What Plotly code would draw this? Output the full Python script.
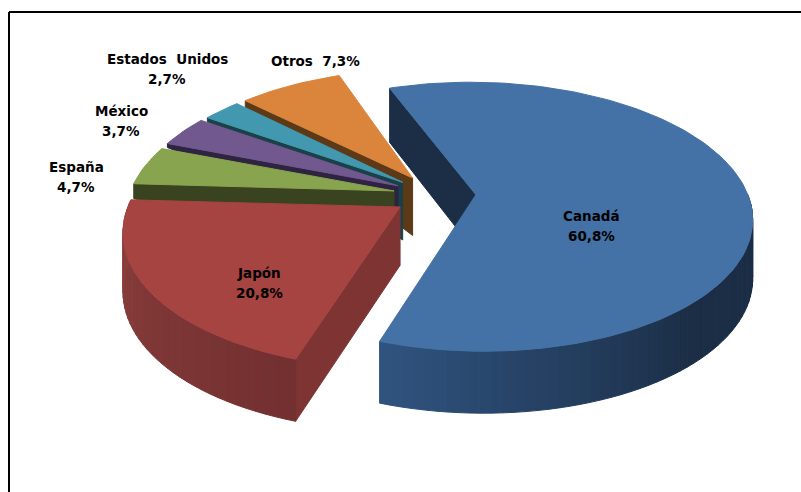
import math
import plotly.graph_objects as go

categories = ["Canadá", "Japón", "España", "México", "Estados Unidos", "Otros"]
values = [60.8, 20.8, 4.7, 3.7, 2.7, 7.3]

top_colors = ["#4472A6", "#A64442", "#89A44E", "#71588F", "#4198AF", "#DA843C"]
edge_colors = ["#1B2E46", "#7E3433", "#3A431F", "#2E2340", "#1A4048", "#5C3A17"]
wall_left = ["#305480", "#8C403E", None, None, None, None]
wall_right = ["#1B2E46", "#733030", None, None, None, None]
outer_end_depth = [None, None, 15, 4, 4, 7]
slice_pull = [0.145, 0.16, 0.16, 0.16, 0.16, 0.16]
slice_turn = [0.9, 0.3, 0, 0, 0, 0]
arc_shift = [(0, 0), (0.014, 0), (0.027, 0.008), (0.028, 0.012), (0.033, 0.01), (0.028, 0.005)]
label_pos = [(591, 216, 236), (259, 273, 293), (76, 167, 187), (121, 111, 131), (167, 59, 79)]
other_label = (315, 61)

START = -21.0
CX, CY, RX, RY, K = 436.5, 195.0, 272.0, 131.0, 0.163
WIDTH, HEIGHT = 801, 492


def project(X, Y):
    s = 1.0 / (1.0 + K * Y)
    return CX + RX * X * s, CY - RY * Y * s


def depth(Y):
    return 58.0 - 4.0 * Y


def mix(a, b, t):
    ca = [int(a[i:i + 2], 16) for i in (1, 3, 5)]
    cb = [int(b[i:i + 2], 16) for i in (1, 3, 5)]
    return "#%02x%02x%02x" % tuple(round(x + (y - x) * t) for x, y in zip(ca, cb))


fig = go.Figure()


def poly(pts, color):
    xs = [p[0] for p in pts] + [pts[0][0]]
    ys = [p[1] for p in pts] + [pts[0][1]]
    fig.add_trace(go.Scatter(x=xs, y=ys, mode="lines", fill="toself", fillcolor=color,
                             line=dict(color=color, width=1), hoverinfo="skip", showlegend=False))


# angular extent of every slice, clockwise from the top
total = sum(values)
spans = []
a = START
for i, v in enumerate(values):
    b = a + 360.0 * v / total
    spans.append((a + slice_turn[i], b + slice_turn[i]))
    a = b


def apex(i):
    a0, a1 = spans[i]
    mid = math.radians((a0 + a1) / 2)
    return slice_pull[i] * math.sin(mid), slice_pull[i] * math.cos(mid)


def world(i, theta):
    ax, ay = apex(i)
    t = math.radians(theta)
    return ax + arc_shift[i][0] + math.sin(t), ay + arc_shift[i][1] + math.cos(t)


def draw_slice(i):
    a0, a1 = spans[i]
    ax, ay = apex(i)
    A = project(ax, ay)
    ox, oy = world(i, a0)
    O = project(ox, oy)
    dA = depth(ay)
    dO = outer_end_depth[i] if outer_end_depth[i] is not None else depth(oy)
    # straight cut face at the start of the slice
    poly([O, A, (A[0], A[1] + dA), (O[0], O[1] + dO)], edge_colors[i])
    # curved wall, shaded along the arc
    if wall_left[i] is not None:
        t0 = max(a0, 90.0)
        n = max(1, int((a1 - t0) / 2))
        steps = [t0 + (a1 - t0) * j / n for j in range(n + 1)]
        for j in range(n):
            p = world(i, steps[j])
            q = world(i, steps[j + 1])
            P = project(*p)
            Q = project(*q)
            if i == 0:
                t = min(1.0, (a1 - steps[j]) / 62.0)
                col = mix(wall_left[i], wall_right[i], t)
            else:
                t = (steps[j] - a0) / (a1 - a0)
                col = mix(wall_right[i], wall_left[i], t)
            poly([P, Q, (Q[0], Q[1] + depth(q[1])), (P[0], P[1] + depth(p[1]))], col)
    # top face
    n = max(4, int((a1 - a0) / 1.5))
    arc = [project(*world(i, a0 + (a1 - a0) * j / n)) for j in range(n + 1)]
    poly([A] + arc, top_colors[i])


for i in [5, 4, 3, 2, 0, 1]:
    draw_slice(i)

pct = [f"{v:.1f}%".replace(".", ",") for v in values]
FONT = dict(family="DejaVu Sans", size=13.5, color="#000000")


def label(text, x, y):
    fig.add_annotation(x=x, y=y, text=f"<b>{text}</b>", showarrow=False, font=FONT,
                       xanchor="center", yanchor="middle", xref="x", yref="y")


for i, (x, y1, y2) in enumerate(label_pos):
    label(categories[i].replace(" ", "\u00a0\u00a0"), x, y1)
    label(pct[i], x, y2)
label(f"{categories[5]}\u00a0\u00a0{pct[5]}", *other_label)

# chart frame: only the top and left edges are inside the picture
fig.add_shape(type="line", x0=9, x1=WIDTH, y0=12, y1=12, line=dict(color="#000000", width=2))
fig.add_shape(type="line", x0=9, x1=9, y0=12, y1=HEIGHT, line=dict(color="#000000", width=2))

fig.update_layout(
    width=WIDTH, height=HEIGHT, margin=dict(l=0, r=0, t=0, b=0),
    paper_bgcolor="#ffffff", plot_bgcolor="#ffffff", showlegend=False,
    xaxis=dict(range=[0, WIDTH], visible=False, fixedrange=True),
    yaxis=dict(range=[HEIGHT, 0], visible=False, fixedrange=True),
)
fig.write_html("out.html", config=dict(displayModeBar=False),
               post_script="document.body.style.margin='0';document.body.style.overflow='hidden';")
